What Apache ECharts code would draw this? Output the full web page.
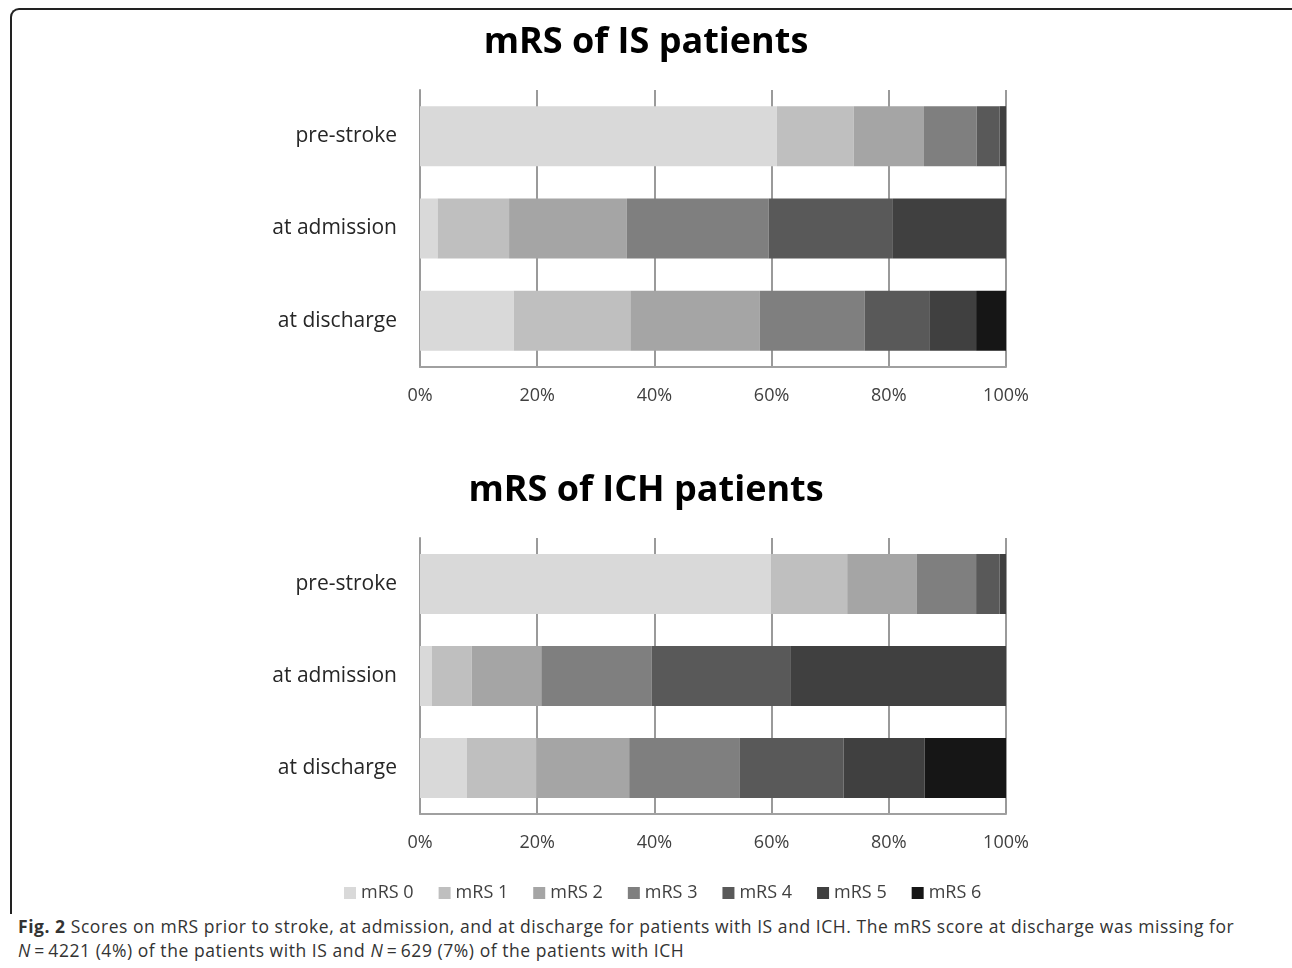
<!DOCTYPE html>
<html>
<head>
<meta charset="utf-8">
<script src="https://cdn.jsdelivr.net/npm/echarts@6/dist/echarts.min.js"></script>
<style>
  html, body { margin: 0; padding: 0; background: #fff; }
  #frame {
    position: absolute; left: 10px; top: 8px; width: 1300px; height: 906px;
    border-left: 2px solid #222; border-top: 2px solid #222;
    border-top-left-radius: 9px; box-sizing: border-box;
  }
  #chart { position: absolute; left: 0; top: 0; width: 1292px; height: 910px; }
  #caption {
    position: absolute; left: 18px; top: 914px; width: 1270px;
    font-family: "Open Sans", sans-serif; font-size: 17.5px; line-height: 24px;
    letter-spacing: 0.55px; color: #333; white-space: nowrap;
  }
</style>
</head>
<body>
<div id="frame"></div>
<div id="chart"></div>
<div id="caption"><b>Fig. 2</b> Scores on mRS prior to stroke, at admission, and at discharge for patients with IS and ICH. The mRS score at discharge was missing for<br><i>N</i>&thinsp;=&thinsp;4221 (4%) of the patients with IS and <i>N</i>&thinsp;=&thinsp;629 (7%) of the patients with ICH</div>
<script>
// 类别与图例
var stages = ['pre-stroke', 'at admission', 'at discharge']
var scores = ['mRS 0', 'mRS 1', 'mRS 2', 'mRS 3', 'mRS 4', 'mRS 5', 'mRS 6']
var greys = ['#d9d9d9', '#bfbfbf', '#a5a5a5', '#7f7f7f', '#595959', '#404040', '#161616']
var ticks = ['0%', '20%', '40%', '60%', '80%', '100%']

// 每个 mRS 分数在三个时间点的百分比 (IS)
var isMrs0 = [60.9, 3.0, 16.0]
var isMrs1 = [13.1, 12.2, 19.9]
var isMrs2 = [12.0, 20.1, 22.1]
var isMrs3 = [9.0, 24.2, 17.9]
var isMrs4 = [3.9, 21.2, 11.0]
var isMrs5 = [1.1, 19.3, 8.0]
var isMrs6 = [0, 0, 5.1]

// ICH
var ichMrs0 = [59.9, 2.0, 8.0]
var ichMrs1 = [13.0, 6.8, 11.9]
var ichMrs2 = [11.9, 11.9, 15.8]
var ichMrs3 = [10.1, 18.8, 18.8]
var ichMrs4 = [4.0, 23.8, 17.8]
var ichMrs5 = [1.1, 36.7, 13.8]
var ichMrs6 = [0, 0, 13.9]

var isData = [isMrs0, isMrs1, isMrs2, isMrs3, isMrs4, isMrs5, isMrs6]
var ichData = [ichMrs0, ichMrs1, ichMrs2, ichMrs3, ichMrs4, ichMrs5, ichMrs6]

var font = '"Open Sans", sans-serif'

function xAxisOf(idx) {
  return {
    gridIndex: idx, type: 'value', min: 0, max: 100, interval: 20,
    axisLine: { show: true, lineStyle: { color: '#a0a0a0', width: 2 } },
    axisTick: { show: false },
    splitLine: { show: true, lineStyle: { color: '#9a9a9a', width: 2 } },
    axisLabel: {
      margin: 20, color: '#404040', fontFamily: font, fontSize: 18,
      formatter: function (v) { return ticks[v / 20] },
    },
  }
}
function yAxisOf(idx) {
  return {
    gridIndex: idx, type: 'category', data: stages, inverse: true,
    axisLine: { show: true, lineStyle: { color: '#9a9a9a', width: 2 } },
    axisTick: { show: false },
    axisLabel: { margin: 23, color: '#262626', fontFamily: font, fontSize: 21 },
  }
}

var series = []
scores.forEach(function (name, i) {
  series.push({
    name: name, type: 'bar', stack: 'is', xAxisIndex: 0, yAxisIndex: 0,
    barWidth: 60, data: isData[i], itemStyle: { color: greys[i] },
  })
})
scores.forEach(function (name, i) {
  series.push({
    name: name, type: 'bar', stack: 'ich', xAxisIndex: 1, yAxisIndex: 1,
    barWidth: 60, data: ichData[i], itemStyle: { color: greys[i] },
  })
})

var myChart = echarts.init(document.getElementById('chart'))
myChart.setOption({
  animation: false,
  title: [
    { text: 'mRS of IS patients', left: 'center', top: 20,
      textStyle: { fontFamily: font, fontSize: 36, fontWeight: 'bold', color: '#000' } },
    { text: 'mRS of ICH patients', left: 'center', top: 468,
      textStyle: { fontFamily: font, fontSize: 36, fontWeight: 'bold', color: '#000' } },
  ],
  legend: {
    data: scores, top: 879, left: 339, icon: 'rect',
    itemWidth: 12, itemHeight: 12, itemGap: 25,
    textStyle: { fontFamily: font, fontSize: 18, color: '#404040' },
  },
  grid: [
    { left: 420, width: 586, top: 90, height: 277 },
    { left: 420, width: 586, top: 538, height: 276 },
  ],
  xAxis: [xAxisOf(0), xAxisOf(1)],
  yAxis: [yAxisOf(0), yAxisOf(1)],
  series: series,
})
</script>
</body>
</html>
